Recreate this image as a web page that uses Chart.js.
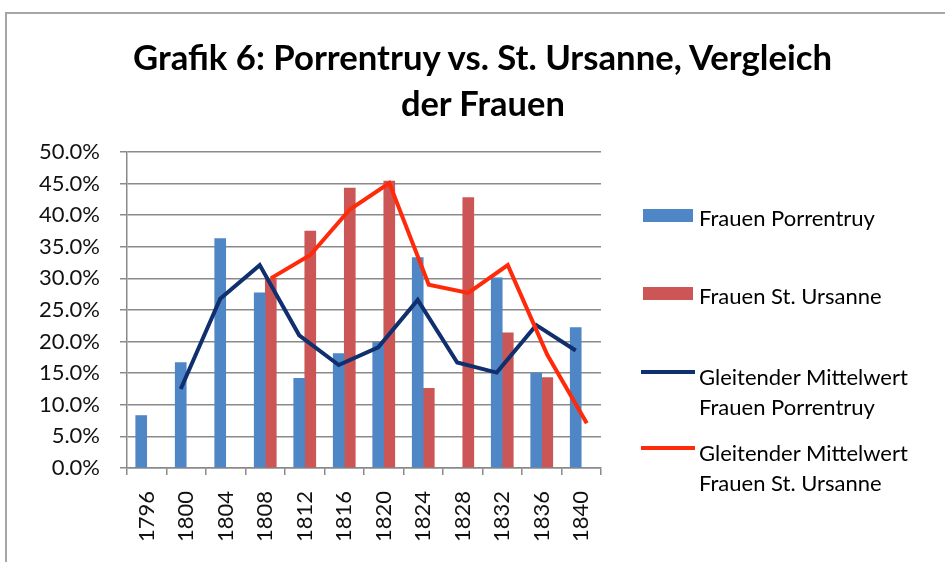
<!DOCTYPE html>
<html>
<head>
<meta charset="utf-8">
<script src="https://cdn.jsdelivr.net/npm/chart.js@4/dist/chart.umd.min.js"></script>
<style>
  html, body { margin: 0; padding: 0; background: #fff; }
  #wrap { position: relative; width: 945px; height: 562px; overflow: hidden; background: #fff; font-family: Lato, "Open Sans", sans-serif; }
  #frame { position: absolute; left: 5px; top: 12px; width: 950px; height: 560px; border-left: 2px solid #a6a6a6; border-top: 2px solid #a6a6a6; box-sizing: border-box; }
  #c { position: absolute; left: 0; top: 0; }
  .title { position: absolute; left: 10px; width: 945px; text-align: center; font-weight: 700; font-size: 34px; color: #000; white-space: nowrap; }
  .title span { display: inline-block; transform-origin: center; }
  #legend { position: absolute; left: 0; top: 0; }
  .sw { position: absolute; }
  .lt { position: absolute; font-size: 22px; line-height: 30px; color: #000; white-space: nowrap; }
</style>
</head>
<body>
<div id="wrap">
  <div id="frame"></div>
  <canvas id="c" width="945" height="562"></canvas>
  <div class="title" id="t1" style="top:36px;"><span>Grafik 6: Porrentruy vs. St. Ursanne, Vergleich</span></div>
  <div class="title" id="t2" style="top:82px;"><span>der Frauen</span></div>
  <div id="legend"></div>
</div>
<script>
// ---- data ----
const years = ['1796','1800','1804','1808','1812','1816','1820','1824','1828','1832','1836','1840'];
const frauenPorrentruy = [8.3, 16.7, 36.3, 27.7, 14.2, 18.1, 19.9, 33.3, null, 30.1, 15.0, 22.2];
const frauenStUrsanne  = [null, null, null, 30.0, 37.5, 44.3, 45.4, 12.6, 42.8, 21.4, 14.3, null];
const mittelPorrentruy = [null, 12.5, 26.8, 32.1, 21.0, 16.3, 19.1, 26.6, 16.7, 15.1, 22.6, 18.6];
const mittelStUrsanne  = [null, null, null, 30.0, 33.7, 40.9, 45.1, 29.0, 27.7, 32.1, 17.9, 7.1];
const yTicks = [0, 5, 10, 15, 20, 25, 30, 35, 40, 45, 50];
const seriesLabels = ['Frauen Porrentruy', 'Frauen St. Ursanne', ['Gleitender Mittelwert', 'Frauen Porrentruy'], ['Gleitender Mittelwert', 'Frauen St. Ursanne']];

const colBlue = '#4f86c6';
const colRed = '#cc5656';
const colNavy = '#102f6e';
const colOrange = '#ff2a0a';

// title width fit (Calibri-like condensed look)
[['t1', 699], ['t2', 164]].forEach(([id, w]) => {
  const s = document.querySelector('#' + id + ' span');
  const k = w / s.getBoundingClientRect().width;
  s.style.transform = 'scaleX(' + k + ')';
});

// each bar is barFrac of a category wide; the blue bar sits left of the
// category centre, the red one right of it; the moving averages follow their bars
const barFrac = 0.28;
const barOffset = barFrac / 2;
const toPts = (arr, off) => arr.map((v, i) => v === null ? null : { x: i + off, y: v }).filter(p => p);

const ctx = document.getElementById('c').getContext('2d');
const chart = new Chart(ctx, {
  type: 'bar',
  data: {
    labels: years,
    datasets: [
      { type: 'bar', label: 'Frauen Porrentruy', xAxisID: 'xl', data: toPts(frauenPorrentruy, -barOffset), backgroundColor: colBlue, grouped: false, barThickness: 11, order: 2 },
      { type: 'bar', label: 'Frauen St. Ursanne', xAxisID: 'xl', data: toPts(frauenStUrsanne, barOffset), backgroundColor: colRed, grouped: false, barThickness: 11, order: 3 },
      { type: 'line', label: 'Gleitender Mittelwert Frauen Porrentruy', xAxisID: 'xl', data: toPts(mittelPorrentruy, -barOffset), borderColor: colNavy, borderWidth: 4, pointRadius: 0, tension: 0, order: 1 },
      { type: 'line', label: 'Gleitender Mittelwert Frauen St. Ursanne', xAxisID: 'xl', data: toPts(mittelStUrsanne, barOffset), borderColor: colOrange, borderWidth: 4, pointRadius: 0, tension: 0, order: 0 }
    ]
  },
  options: {
    responsive: false,
    animation: false,
    layout: { padding: { top: 152, right: 344, left: 0, bottom: 0 } },
    plugins: { legend: { display: false }, title: { display: false }, tooltip: { enabled: false } },
    scales: {
      x: {
        type: 'category',
        labels: years,
        offset: true,
        grid: { display: true, drawOnChartArea: false, drawTicks: true, tickLength: 7, offset: true, color: '#8a8a8a', lineWidth: 1.5 },
        border: { display: true, color: '#8a8a8a', width: 1.5 },
        ticks: { minRotation: 90, maxRotation: 90, padding: 16, color: '#111', font: { family: 'Lato', size: 22 } },
        afterFit: (s) => { s.height = 94; }
      },
      xl: { type: 'linear', display: false, offset: false, min: -0.5, max: years.length - 0.5 },
      y: {
        min: 0, max: 50,
        afterBuildTicks: (s) => { s.ticks = yTicks.map(v => ({ value: v })); },
        grid: { color: '#8a8a8a', lineWidth: 1.5, tickLength: 7, drawTicks: true },
        border: { display: true, color: '#8a8a8a', width: 1.5 },
        ticks: { padding: 20, color: '#111', font: { family: 'Lato', size: 22 }, callback: (v) => v.toFixed(1) + '%' },
        afterFit: (s) => { s.width = 127; }
      }
    }
  }
});

// HTML legend built from the datasets
const legendPos = [
  { swTop: 209, swH: 13, swLeft: 643, swW: 50, textTop: 203 },
  { swTop: 287, swH: 13, swLeft: 643, swW: 50, textTop: 281 },
  { swTop: 370, swH: 4, swLeft: 641, swW: 54, textTop: 362 },
  { swTop: 446, swH: 4, swLeft: 641, swW: 54, textTop: 438 }
];
const legend = document.getElementById('legend');
chart.data.datasets.forEach((ds, i) => {
  const p = legendPos[i];
  const sw = document.createElement('div');
  sw.className = 'sw';
  sw.style.left = p.swLeft + 'px'; sw.style.top = p.swTop + 'px';
  sw.style.width = p.swW + 'px'; sw.style.height = p.swH + 'px';
  sw.style.background = ds.type === 'bar' ? ds.backgroundColor : ds.borderColor;
  legend.appendChild(sw);
  const lbl = seriesLabels[i];
  const t = document.createElement('div');
  t.className = 'lt';
  t.style.left = '699px'; t.style.top = p.textTop + 'px';
  t.innerHTML = (Array.isArray(lbl) ? lbl : [lbl]).join('<br>');
  legend.appendChild(t);
});
</script>
</body>
</html>
